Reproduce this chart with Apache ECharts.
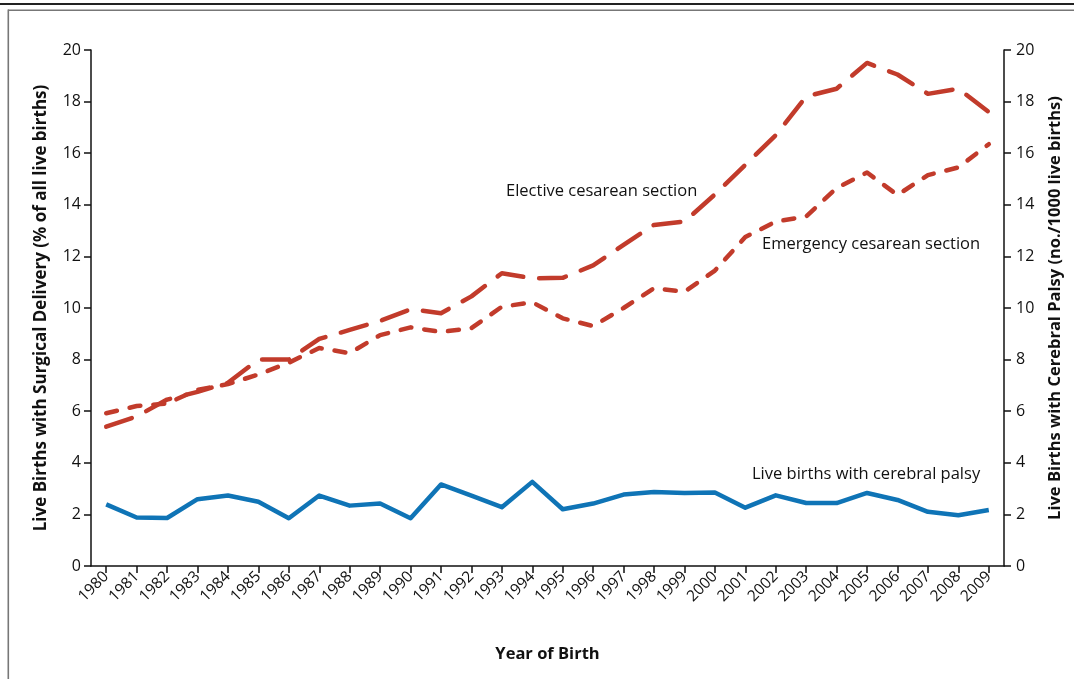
<!DOCTYPE html>
<html>
<head>
<meta charset="utf-8">
<script src="https://cdn.jsdelivr.net/npm/echarts@6/dist/echarts.min.js"></script>
<style>
html,body{margin:0;padding:0;background:#fff;}
#chart{width:1074px;height:679px;}
</style>
</head>
<body>
<div id="chart"></div>
<script>
var years = ['1980','1981','1982','1983','1984','1985','1986','1987','1988','1989',
             '1990','1991','1992','1993','1994','1995','1996','1997','1998','1999',
             '2000','2001','2002','2003','2004','2005','2006','2007','2008','2009'];
var elective = [5.4,5.8,6.45,6.75,7.1,8.0,8.0,8.8,9.15,9.5,
                9.95,9.8,10.45,11.35,11.15,11.17,11.65,12.45,13.22,13.35,
                14.4,15.55,16.7,18.2,18.5,19.5,19.05,18.3,18.5,17.6];
var emergency = [5.92,6.2,6.3,6.83,7.05,7.42,7.88,8.45,8.25,8.95,
                 9.25,9.07,9.22,10.05,10.22,9.6,9.3,10.0,10.77,10.63,
                 11.45,12.75,13.35,13.55,14.65,15.25,14.38,15.15,15.45,16.35];
var palsy = [2.39,1.88,1.86,2.59,2.73,2.49,1.85,2.73,2.34,2.42,
             1.85,3.16,2.73,2.28,3.26,2.2,2.42,2.77,2.87,2.83,
             2.85,2.26,2.74,2.44,2.44,2.83,2.56,2.1,1.97,2.17];
var yTicks = [0,2,4,6,8,10,12,14,16,18,20];

var FONT = 'Open Sans';
var RED = '#c23b2b';
var BLUE = '#0f74b6';

var chart = echarts.init(document.getElementById('chart'), null, {renderer:'canvas'});

function yAxis(pos, name, titleSize, gap, labelMargin) {
  return {
    type: 'value', position: pos, min: yTicks[0], max: yTicks[yTicks.length-1], interval: yTicks[1]-yTicks[0],
    name: name, nameLocation: 'middle', nameGap: gap,
    nameRotate: 90,
    nameTextStyle: {fontFamily: FONT, fontWeight: 'bold', fontSize: titleSize, color: '#111'},
    axisLine: {show: true, lineStyle: {color: '#111', width: 1.5}},
    axisTick: {show: true, length: 7, inside: false, lineStyle: {color: '#111', width: 1.5}},
    axisLabel: {fontFamily: FONT, fontSize: 16, color: '#111', margin: labelMargin},
    splitLine: {show: false}
  };
}

var option = {
  animation: false,
  backgroundColor: '#fff',
  grid: {left: 91, right: 70, top: 50, bottom: 113, containLabel: false},
  xAxis: {
    type: 'category', data: years, boundaryGap: true,
    name: 'Year of Birth', nameLocation: 'middle', nameGap: 80,
    nameTextStyle: {fontFamily: FONT, fontWeight: 'bold', fontSize: 16.5, color: '#111'},
    axisLine: {show: true, lineStyle: {color: '#111', width: 1.5}},
    axisTick: {show: true, alignWithLabel: true, length: 7, lineStyle: {color: '#111', width: 1.5}},
    axisLabel: {rotate: 45, interval: 0, fontFamily: FONT, fontSize: 15.5, color: '#111', margin: 8}
  },
  yAxis: [
    yAxis('left', 'Live Births with Surgical Delivery (% of all live births)', 17, 41, 10),
    yAxis('right', 'Live Births with Cerebral Palsy (no./1000 live births)', 16.5, 43, 12)
  ],
  series: [
    {name: 'Elective cesarean section', type: 'line', yAxisIndex: 0, data: elective,
     symbol: 'none', lineStyle: {color: RED, width: 4.5, type: [27, 16], cap: 'round', join: 'round'}},
    {name: 'Emergency cesarean section', type: 'line', yAxisIndex: 0, data: emergency,
     symbol: 'none', lineStyle: {color: RED, width: 4.5, type: [11, 13], cap: 'round', join: 'round'}},
    {name: 'Live births with cerebral palsy', type: 'line', yAxisIndex: 1, data: palsy,
     symbol: 'none', lineStyle: {color: BLUE, width: 4.5, join: 'round'}}
  ],
  graphic: [
    {type: 'rect', shape: {x: 0, y: 3, width: 1074, height: 2}, style: {fill: '#222'}, silent: true},
    {type: 'rect', shape: {x: 8, y: 9.5, width: 1066, height: 1.6}, style: {fill: '#777'}, silent: true},
    {type: 'rect', shape: {x: 7.5, y: 9.5, width: 1.6, height: 670}, style: {fill: '#777'}, silent: true},
    {type: 'text', left: 506, top: 183, style: {text: 'Elective cesarean section', font: '16.5px "Open Sans"', fill: '#111'}},
    {type: 'text', left: 762, top: 236, style: {text: 'Emergency cesarean section', font: '16.5px "Open Sans"', fill: '#111'}},
    {type: 'text', left: 752, top: 466, style: {text: 'Live births with cerebral palsy', font: '16.5px "Open Sans"', fill: '#111'}}
  ]
};
chart.setOption(option);
</script>
</body>
</html>
